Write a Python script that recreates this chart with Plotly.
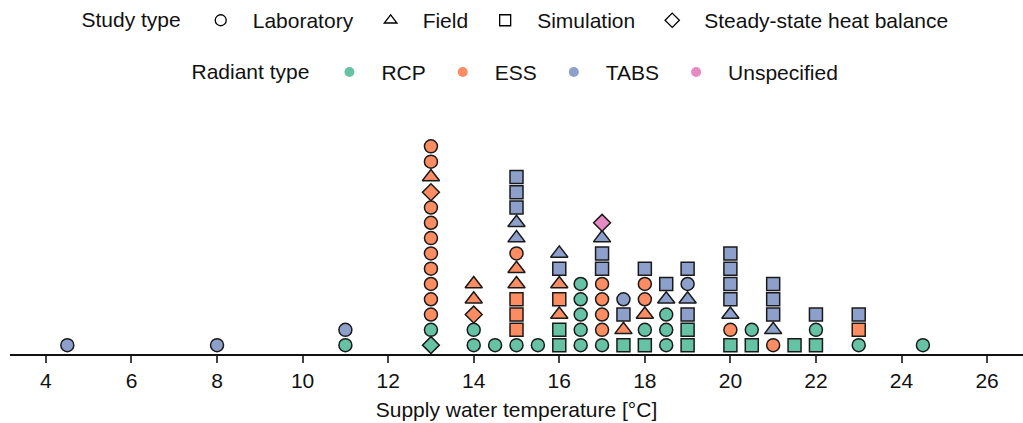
import plotly.graph_objects as go

# Each record: supply water temperature, study type, radiant type (listed bottom-up within a column)
temps = (
    [4.5, 8, 11, 11]
    + [13] * 14
    + [14] * 5
    + [14.5]
    + [15] * 12
    + [15.5]
    + [16] * 7
    + [16.5] * 5
    + [17] * 9
    + [17.5] * 4
    + [18] * 6
    + [18.5] * 5
    + [19] * 6
    + [20] * 7
    + [20.5] * 2
    + [21] * 5
    + [21.5]
    + [22] * 3
    + [23] * 3
    + [24.5]
)

study = (
    ["Lab", "Lab", "Lab", "Lab"]
    + ["SS", "Lab"] + ["Lab"] * 8 + ["SS", "Field", "Lab", "Lab"]
    + ["Lab", "Lab", "SS", "Field", "Field"]
    + ["Lab"]
    + ["Lab", "Sim", "Sim", "Sim", "Field", "Field", "Lab", "Field", "Field", "Sim", "Sim", "Sim"]
    + ["Lab"]
    + ["Sim", "Sim", "Field", "Sim", "Field", "Sim", "Field"]
    + ["Lab"] * 5
    + ["Lab", "Lab", "Lab", "Lab", "Lab", "Sim", "Sim", "Field", "SS"]
    + ["Sim", "Field", "Sim", "Lab"]
    + ["Sim", "Lab", "Field", "Lab", "Lab", "Sim"]
    + ["Lab", "Lab", "Lab", "Field", "Sim"]
    + ["Sim", "Sim", "Sim", "Field", "Lab", "Sim"]
    + ["Sim", "Lab", "Field", "Sim", "Sim", "Sim", "Sim"]
    + ["Sim", "Lab"]
    + ["Lab", "Field", "Sim", "Sim", "Sim"]
    + ["Sim"]
    + ["Sim", "Lab", "Sim"]
    + ["Lab", "Sim", "Sim"]
    + ["Lab"]
)

radiant = (
    ["TABS", "TABS", "RCP", "TABS"]
    + ["RCP", "RCP"] + ["ESS"] * 12
    + ["RCP", "RCP", "ESS", "ESS", "ESS"]
    + ["RCP"]
    + ["RCP"] + ["ESS"] * 6 + ["TABS"] * 5
    + ["RCP"]
    + ["RCP", "RCP", "ESS", "ESS", "ESS", "TABS", "TABS"]
    + ["RCP"] * 5
    + ["RCP", "ESS", "ESS", "ESS", "ESS", "TABS", "TABS", "TABS", "Unspecified"]
    + ["RCP", "ESS", "TABS", "TABS"]
    + ["RCP", "RCP", "ESS", "ESS", "ESS", "TABS"]
    + ["RCP", "RCP", "RCP", "TABS", "TABS"]
    + ["RCP", "RCP", "TABS", "TABS", "TABS", "TABS"]
    + ["RCP", "ESS", "TABS", "TABS", "TABS", "TABS", "TABS"]
    + ["RCP", "RCP"]
    + ["ESS", "TABS", "TABS", "TABS", "TABS"]
    + ["RCP"]
    + ["RCP", "RCP", "TABS"]
    + ["RCP", "ESS", "TABS"]
    + ["RCP"]
)

study_labels = {"Lab": "Laboratory", "Field": "Field", "Sim": "Simulation", "SS": "Steady-state heat balance"}
study_symbols = {"Lab": "circle", "Field": "triangle-up", "Sim": "square", "SS": "diamond"}
radiant_types = ["RCP", "ESS", "TABS", "Unspecified"]
radiant_colors = {"RCP": "#66c2a5", "ESS": "#fc8d62", "TABS": "#8da0cb", "Unspecified": "#e78ac3"}

FONT = "Liberation Sans, Arial, sans-serif"
FS = 21
EDGE = "#1a1a1a"

# Stack position of each record within its temperature column
level = []
seen = {}
for t in temps:
    level.append(seen.get(t, 0))
    seen[t] = seen.get(t, 0) + 1

fig = go.Figure()

for code, shape in study_symbols.items():
    idx = [i for i, s in enumerate(study) if s == code]
    fig.add_trace(go.Scatter(
        x=[temps[i] for i in idx],
        y=[level[i] for i in idx],
        mode="markers",
        showlegend=False,
        hoverinfo="x",
        marker=dict(
            symbol=shape,
            size=13 if code != "Field" else 15,
            color=[radiant_colors[radiant[i]] for i in idx],
            line=dict(color=EDGE, width=1.5),
        ),
    ))

# Legend entries: study type (shape) and radiant type (colour)
for code, shape in study_symbols.items():
    fig.add_trace(go.Scatter(
        x=[None], y=[None], mode="markers", name=study_labels[code], legend="legend",
        marker=dict(symbol=shape + "-open", size=11, color="black", line=dict(width=1.3)),
    ))
for r in radiant_types:
    fig.add_trace(go.Scatter(
        x=[None], y=[None], mode="markers", name=r, legend="legend2",
        marker=dict(symbol="circle", size=10, color=radiant_colors[r], line=dict(width=0)),
    ))

legend_style = dict(
    orientation="h", xanchor="center", x=0.5, yanchor="middle",
    font=dict(family=FONT, size=FS, color="#111"),
    bgcolor="rgba(0,0,0,0)", itemclick=False, itemwidth=54,
)

fig.update_layout(
    width=1023, height=423,
    margin=dict(l=10, r=0, t=100, b=69),
    paper_bgcolor="white", plot_bgcolor="white",
    font=dict(family=FONT, size=FS, color="#111"),
    legend=dict(**legend_style, y=1.323, title=dict(text="Study type", font=dict(size=FS))),
    legend2=dict(**legend_style, y=1.118, title=dict(text="Radiant type", font=dict(size=FS))),
    xaxis=dict(
        range=[3.16, 26.84], tickmode="array", tickvals=list(range(4, 27, 2)),
        showline=True, linecolor="#111", linewidth=2, showgrid=False, zeroline=False,
        ticks="outside", ticklen=7, tickwidth=2, tickcolor="#444",
        tickfont=dict(size=FS), title=dict(text="Supply water temperature [°C]", font=dict(size=FS), standoff=11),
    ),
    yaxis=dict(range=[-0.58, 15.9], visible=False, showgrid=False, zeroline=False),
)

fig.write_html("out.html")
